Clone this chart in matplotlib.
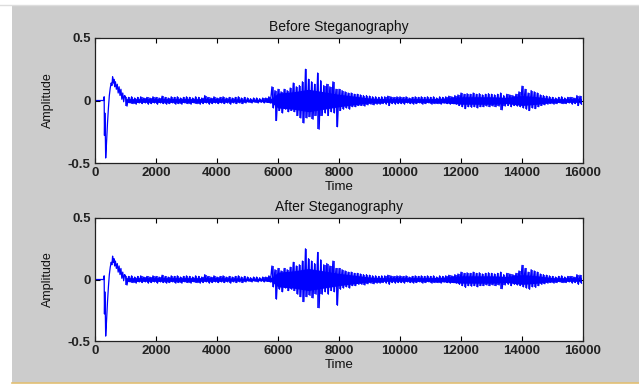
import numpy as np
from matplotlib import pyplot as plt
from matplotlib.patches import Rectangle

plt.rcParams['font.family'] = ['Liberation Sans', 'DejaVu Sans']
plt.rcParams['axes.unicode_minus'] = False

# onset of the signal (sample index, amplitude)
onset_t = [0, 290, 300, 310, 322, 335, 350, 365, 385, 410, 440, 470, 500, 530, 555,
           577, 600, 620, 645, 670, 700, 730, 760, 790, 820, 850, 880, 910, 940, 970]
onset_amp = [0, 0, 0.03, -0.28, -0.10, -0.22, -0.46, -0.40, -0.30, -0.18, -0.06, 0.04, 0.10, 0.14, 0.12,
             0.19, 0.14, 0.17, 0.11, 0.15, 0.09, 0.13, 0.06, 0.11, 0.04, 0.09, 0.01, 0.06, -0.01, 0.04]

# rest of the waveform, one value every 50 samples from 1000 on (one row = 1000 samples)
# even entries are the local peaks, odd entries the local troughs
step = 50
wave = [
    0.03, -0.045, 0.025, -0.02, 0.03, -0.025, 0.02, -0.03, 0.025, -0.02, 0.03, -0.025, 0.02, -0.02, 0.025, -0.03, 0.02, -0.025, 0.03, -0.02,
    0.025, -0.03, 0.02, -0.02, 0.035, -0.025, 0.025, -0.03, 0.02, -0.025, 0.03, -0.02, 0.025, -0.03, 0.03, -0.025, 0.02, -0.03, 0.025, -0.02,
    0.03, -0.025, 0.025, -0.03, 0.02, -0.02, 0.03, -0.025, 0.025, -0.03, 0.02, -0.025, 0.04, -0.02, 0.025, -0.03, 0.02, -0.025, 0.03, -0.02,
    0.02, -0.025, 0.025, -0.02, 0.03, -0.025, 0.02, -0.02, 0.025, -0.03, 0.02, -0.02, 0.025, -0.025, 0.03, -0.02, 0.02, -0.025, 0.025, -0.02,
    0.02, -0.015, 0.015, -0.02, 0.02, -0.015, 0.02, -0.02, 0.015, -0.015, 0.02, -0.02, 0.02, -0.015, 0.03, -0.02, 0.11, -0.06, 0.08, -0.16,
    0.09, -0.08, 0.07, -0.10, 0.09, -0.07, 0.08, -0.09, 0.10, -0.08, 0.14, -0.09, 0.11, -0.12, 0.12, -0.14, 0.15, -0.18, 0.25, -0.14,
    0.17, -0.13, 0.15, -0.15, 0.13, -0.12, 0.22, -0.23, 0.16, -0.12, 0.12, -0.10, 0.13, -0.12, 0.11, -0.09, 0.15, -0.10, 0.09, -0.21,
    0.09, -0.08, 0.08, -0.07, 0.07, -0.06, 0.06, -0.07, 0.06, -0.05, 0.05, -0.05, 0.05, -0.04, 0.045, -0.04, 0.04, -0.045, 0.04, -0.035,
    0.035, -0.03, 0.03, -0.035, 0.03, -0.03, 0.025, -0.03, 0.03, -0.025, 0.03, -0.03, 0.035, -0.04, 0.03, -0.025, 0.025, -0.03, 0.03, -0.025,
    0.03, -0.025, 0.025, -0.03, 0.03, -0.02, 0.02, -0.025, 0.025, -0.03, 0.03, -0.025, 0.025, -0.02, 0.03, -0.03, 0.025, -0.025, 0.03, -0.02,
    0.025, -0.03, 0.03, -0.025, 0.02, -0.025, 0.03, -0.03, 0.025, -0.02, 0.03, -0.025, 0.035, -0.03, 0.03, -0.025, 0.04, -0.03, 0.045, -0.04,
    0.06, -0.05, 0.05, -0.065, 0.055, -0.05, 0.05, -0.055, 0.06, -0.05, 0.05, -0.06, 0.055, -0.05, 0.045, -0.05, 0.05, -0.045, 0.055, -0.05,
    0.05, -0.045, 0.045, -0.05, 0.05, -0.045, 0.06, -0.075, 0.04, -0.045, 0.05, -0.04, 0.045, -0.05, 0.04, -0.04, 0.05, -0.045, 0.07, -0.05,
    0.115, -0.06, 0.09, -0.07, 0.06, -0.08, 0.08, -0.06, 0.07, -0.065, 0.06, -0.05, 0.045, -0.04, 0.04, -0.035, 0.035, -0.03, 0.03, -0.025,
    0.025, -0.03, 0.02, -0.025, 0.025, -0.02, 0.03, -0.025, 0.02, -0.025, 0.025, -0.02, 0.025, -0.03, 0.02, -0.025, 0.04, -0.04, 0.035, -0.03,
]

# half width of the solid core of the trace, read every 500 samples from 1000 to 15950
core_t = [1000, 1500, 2000, 2500, 3000, 3500, 4000, 4500, 5000, 5500, 5800, 6000, 6500, 7000, 7500,
          8000, 8500, 9000, 9500, 10000, 10500, 11000, 11500, 12000, 12500, 13000, 13500, 14000, 14500, 15000, 15500, 15950]
core_w = [0.015, 0.015, 0.015, 0.015, 0.015, 0.015, 0.015, 0.012, 0.01, 0.01, 0.02, 0.06, 0.07, 0.09, 0.07,
          0.05, 0.035, 0.02, 0.015, 0.015, 0.015, 0.015, 0.02, 0.03, 0.03, 0.03, 0.025, 0.04, 0.03, 0.015, 0.015, 0.015]

titles = ['Before Steganography', 'After Steganography']
xticks = [0, 2000, 4000, 6000, 8000, 10000, 12000, 14000, 16000]
yticks = [-0.5, 0, 0.5]
ytick_labels = ['-0.5', '0', '0.5']

t = np.concatenate([onset_t, 1000 + step * np.arange(len(wave))])
y = np.concatenate([onset_amp, wave])

# peak / trough pairs, drawn as min-max strokes the way matlab renders dense audio
peaks = np.array(wave[0::2])
troughs = np.array(wave[1::2])
t_band = 1000 + 2 * step * np.arange(len(peaks)) + step / 2
core_w = np.array(core_w)

fig = plt.figure(figsize=(6.39, 3.85), dpi=100, facecolor='white')
# matlab style grey figure panel
fig.patches.append(Rectangle((12 / 639, 2 / 385), 1 - 12 / 639, 377 / 385, transform=fig.transFigure,
                             facecolor='#cccccc', edgecolor='none', zorder=-1))
fig.lines.append(plt.Line2D([12 / 639, 1], [2 / 385, 2 / 385], transform=fig.transFigure,
                            color='#e2bf73', lw=1.2))
fig.lines.append(plt.Line2D([0, 1], [380 / 385, 380 / 385], transform=fig.transFigure,
                            color='#dddddd', lw=1.0))

positions = [[95 / 639, 222 / 385, 488 / 639, 125 / 385],
             [95 / 639, 44 / 385, 488 / 639, 123 / 385]]

for k in range(2):
    ax = fig.add_axes(positions[k])
    ax.set_facecolor('white')
    ax.fill_between(core_t, -core_w, core_w, color='#0000ff', lw=0)
    ax.vlines(t_band, troughs, peaks, color='#0000ff', lw=1.1)
    ax.plot(t, y, color='#0000ff', lw=0.9)
    ax.set_xlim(0, 16000)
    ax.set_ylim(-0.5, 0.5)
    ax.set_xticks(xticks)
    ax.set_xticklabels([str(v) for v in xticks], fontweight='bold', fontsize=9.5, color='#222222')
    ax.set_yticks(yticks)
    ax.set_yticklabels(ytick_labels, fontweight='bold', fontsize=9.5, color='#222222')
    ax.tick_params(direction='in', length=3.5, width=0.8, top=True, right=True, pad=3)
    for s in ax.spines.values():
        s.set_linewidth(0.9)
        s.set_color('#222222')
    ax.set_title(titles[k], fontsize=10, pad=5, color='#111111')
    ax.set_xlabel('Time', fontsize=9.5, labelpad=1, color='#111111')
    ax.set_ylabel('Amplitude', fontsize=9, color='#111111')
    ax.yaxis.set_label_coords(-0.084, 0.5)

plt.savefig('out.png', dpi=100, facecolor=fig.get_facecolor())
